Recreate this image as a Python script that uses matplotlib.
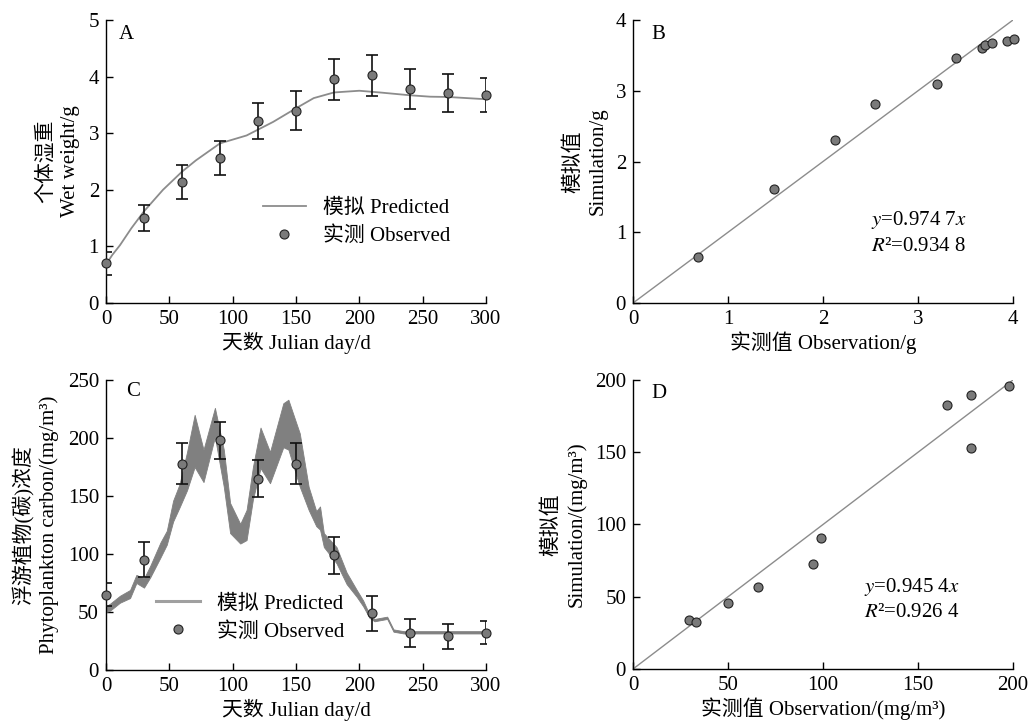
import matplotlib
matplotlib.use("Agg")
import matplotlib.pyplot as plt
from matplotlib.lines import Line2D

plt.rcParams["font.family"] = ["Liberation Serif", "Noto Sans CJK SC"]
plt.rcParams["mathtext.fontset"] = "stix"
plt.rcParams["font.size"] = 15
plt.rcParams["axes.linewidth"] = 1.0

# --- A: individual wet weight ---
obs_days = [0, 30, 60, 90, 120, 150, 180, 210, 240, 270, 300]
weight_obs = [0.70, 1.50, 2.14, 2.56, 3.21, 3.40, 3.95, 4.02, 3.78, 3.71, 3.68]
weight_err = [0.21, 0.23, 0.30, 0.30, 0.32, 0.35, 0.36, 0.37, 0.35, 0.34, 0.30]
model_days = [0, 5, 11, 20, 30, 45, 60, 71, 90, 111, 132, 150, 164, 180, 200, 216, 240, 256, 270, 300]
weight_model = [0.68, 0.85, 1.02, 1.32, 1.62, 2.00, 2.32, 2.52, 2.82, 2.96, 3.20, 3.44, 3.62, 3.72, 3.75, 3.72, 3.67, 3.645, 3.64, 3.60]

# --- B: simulated vs observed wet weight ---
weight_x = [0.68, 1.48, 2.13, 2.55, 3.20, 3.40, 3.67, 3.70, 3.78, 3.94, 4.01]
weight_y = [0.65, 1.61, 2.31, 2.81, 3.09, 3.46, 3.60, 3.65, 3.68, 3.70, 3.73]

# --- C: phytoplankton carbon ---
phyto_obs = [65, 95, 178, 198, 165, 178, 99, 49, 32, 29, 32]
phyto_err = [10, 15, 18, 16, 16, 18, 16, 15, 12, 11, 10]
band_days = [0, 3, 11, 19, 24, 30, 35, 43, 48, 53, 58, 64, 70, 77, 86, 93, 98,
             106, 111, 116, 122, 129.5, 140, 144, 153, 160, 166, 169, 172, 182, 190,
             198, 203, 208, 212, 217, 222, 227, 235, 300]
band_low = [50, 51, 58, 62, 75, 71, 80, 97, 108, 128, 140, 155, 175, 162, 201, 158, 118,
            109, 112, 147, 174, 161, 192, 190, 158, 138, 124, 121, 106, 92, 74,
            63, 55, 45, 42, 43, 44, 33, 31.5, 31.5]
band_high = [55, 57, 64, 69, 82, 79, 90, 110, 120, 146, 160, 188, 220, 190, 226, 190, 144,
             126, 138, 175, 209, 188, 230, 233, 204, 158, 137, 141, 118, 106, 84,
             69, 60, 48, 44, 45, 46, 35, 33.5, 33.5]

# --- D: simulated vs observed phytoplankton ---
phyto_x = [29.4, 32.9, 49.8, 65.8, 94.5, 98.9, 165, 177.8, 177.8, 197.7]
phyto_y = [33.9, 32.7, 45.9, 56.5, 72.8, 90.8, 182.7, 189.9, 153, 195.9]

fig = plt.figure(figsize=(10.32, 7.27), dpi=100)
axA = fig.add_axes([0.1027, 0.5832, 0.3682, 0.3893])
axB = fig.add_axes([0.6134, 0.5832, 0.3682, 0.3893])
axC = fig.add_axes([0.1027, 0.0784, 0.3682, 0.3989])
axD = fig.add_axes([0.6134, 0.0798, 0.3682, 0.3975])

mk = dict(marker="o", markersize=6.5, markerfacecolor="#7a7a7a", markeredgecolor="#222222",
          markeredgewidth=0.8)

for ax in (axA, axB, axC, axD):
    ax.spines["top"].set_visible(False)
    ax.spines["right"].set_visible(False)
    ax.tick_params(direction="in", length=5, width=1.0, labelsize=15, pad=5)

# A
axA.plot(model_days, weight_model, color="#8c8c8c", lw=1.3, label="模拟 Predicted", zorder=2)
axA.errorbar(obs_days, weight_obs, yerr=weight_err, fmt="none", ecolor="#111111",
             elinewidth=1.2, capsize=4, capthick=1.2, zorder=3)
axA.plot(obs_days, weight_obs, linestyle="none", label="实测 Observed", zorder=4, clip_on=False, **mk)
axA.set_xlim(0, 300)
axA.set_ylim(0, 5)
axA.set_xticks([0, 50, 100, 150, 200, 250, 300])
axA.set_yticks([0, 1, 2, 3, 4, 5])
axA.set_xlabel("天数 Julian day/d", labelpad=2)
axA.set_ylabel("个体湿重\nWet weight/g", linespacing=1.35, labelpad=6)
axA.legend(loc="center left", bbox_to_anchor=(0.39, 0.285), frameon=False,
           handlelength=2.1, labelspacing=0.4, fontsize=15, borderaxespad=0)
axA.text(0.053, 0.947, "A", transform=axA.transAxes, ha="center", va="center", fontsize=15)

# B
axB.plot([0, 4], [0, 4], color="#8c8c8c", lw=1.0, zorder=2)
axB.plot(weight_x, weight_y, linestyle="none", zorder=3, clip_on=False, **mk)
axB.set_xlim(0, 4)
axB.set_ylim(0, 4)
axB.set_xticks([0, 1, 2, 3, 4])
axB.set_yticks([0, 1, 2, 3, 4])
axB.set_xlabel("实测值 Observation/g", labelpad=2)
axB.set_ylabel("模拟值\nSimulation/g", linespacing=1.35, labelpad=6)
axB.text(0.066, 0.947, "B", transform=axB.transAxes, ha="center", va="center", fontsize=15)
axB.text(0.626, 0.293, "$y$=0.974 7$x$", transform=axB.transAxes, ha="left", va="center", fontsize=15)
axB.text(0.626, 0.198, "$R$²=0.934 8", transform=axB.transAxes, ha="left", va="center", fontsize=15)

# C
axC.fill_between(band_days, band_low, band_high, color="#808080", lw=0.6, zorder=2)
axC.errorbar(obs_days, phyto_obs, yerr=phyto_err, fmt="none", ecolor="#111111",
             elinewidth=1.2, capsize=4, capthick=1.2, zorder=3)
axC.plot(obs_days, phyto_obs, linestyle="none", zorder=4, clip_on=False, **mk)
axC.set_xlim(0, 300)
axC.set_ylim(0, 250)
axC.set_xticks([0, 50, 100, 150, 200, 250, 300])
axC.set_yticks([0, 50, 100, 150, 200, 250])
axC.set_xlabel("天数 Julian day/d", labelpad=2)
axC.set_ylabel("浮游植物(碳)浓度\nPhytoplankton carbon/(mg/m³)", linespacing=1.35, labelpad=6)
handles = [Line2D([], [], color="#a0a0a0", lw=2.2),
           Line2D([], [], linestyle="none", **mk)]
axC.legend(handles, ["模拟 Predicted", "实测 Observed"], loc="center left",
           bbox_to_anchor=(0.11, 0.18), frameon=False, handlelength=2.1,
           labelspacing=0.4, fontsize=15, borderaxespad=0)
axC.text(0.071, 0.959, "C", transform=axC.transAxes, ha="center", va="center", fontsize=15)

# D
axD.plot([0, 200], [0, 200], color="#8c8c8c", lw=1.0, zorder=2)
axD.plot(phyto_x, phyto_y, linestyle="none", zorder=3, clip_on=False, **mk)
axD.set_xlim(0, 200)
axD.set_ylim(0, 200)
axD.set_xticks([0, 50, 100, 150, 200])
axD.set_yticks([0, 50, 100, 150, 200])
axD.set_xlabel("实测值 Observation/(mg/m³)", labelpad=2)
axD.set_ylabel("模拟值\nSimulation/(mg/m³)", linespacing=1.35, labelpad=6)
axD.text(0.068, 0.955, "D", transform=axD.transAxes, ha="center", va="center", fontsize=15)
axD.text(0.608, 0.284, "$y$=0.945 4$x$", transform=axD.transAxes, ha="left", va="center", fontsize=15)
axD.text(0.608, 0.194, "$R$²=0.926 4", transform=axD.transAxes, ha="left", va="center", fontsize=15)

fig.savefig("out.png", dpi=100)
